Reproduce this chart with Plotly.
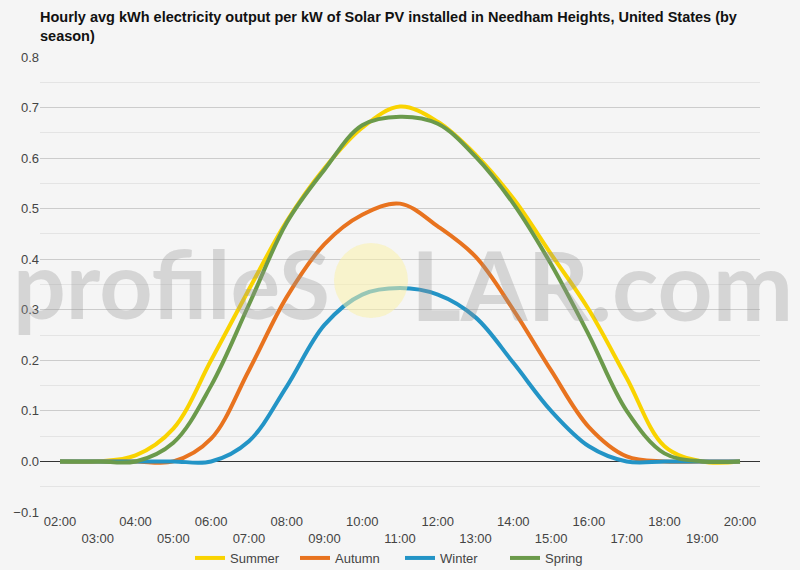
import plotly.graph_objects as go

# hourly averages, kWh per kW installed
hours = ['02:00', '03:00', '04:00', '05:00', '06:00', '07:00', '08:00', '09:00', '10:00', '11:00',
         '12:00', '13:00', '14:00', '15:00', '16:00', '17:00', '18:00', '19:00', '20:00']

summer = [0, 0, 0.012, 0.065, 0.2, 0.34, 0.475, 0.58, 0.66, 0.702,
          0.672, 0.607, 0.52, 0.41, 0.30, 0.165, 0.03, 0, 0]
autumn = [0, 0, 0, 0, 0.045, 0.18, 0.325, 0.43, 0.488, 0.51,
          0.465, 0.405, 0.30, 0.18, 0.068, 0.01, 0, 0, 0]
winter = [0, 0, 0, 0, 0, 0.04, 0.148, 0.27, 0.33, 0.343,
          0.33, 0.285, 0.195, 0.1, 0.03, 0, 0, 0, 0]
spring = [0, 0, 0, 0.037, 0.15, 0.31, 0.472, 0.577, 0.665, 0.682,
          0.668, 0.603, 0.51, 0.39, 0.25, 0.1, 0.016, 0, 0]

series = [('Summer', summer, '#f9d300'),
          ('Autumn', autumn, '#e8731f'),
          ('Winter', winter, '#2394c6'),
          ('Spring', spring, '#6b9a4b')]

# every other label goes on a second row
tick_text = [h if i % 2 == 0 else '<br>' + h for i, h in enumerate(hours)]

W, H = 800, 570
L, R, T, B = 40, 40, 57, 58


def px_x(x):
    return (x - L) / (W - L - R)


def px_y(y):
    return 1 - (y - T) / (H - T - B)


fig = go.Figure()

for name, vals, col in series:
    fig.add_trace(go.Scatter(x=hours, y=vals, name=name, mode='lines',
                             line=dict(color=col, width=4, shape='spline', smoothing=1)))

# watermark
wm_color = 'rgba(150,150,150,0.33)'
fig.add_shape(type='circle', xref='paper', yref='paper',
              x0=px_x(334), x1=px_x(408), y0=px_y(318), y1=px_y(243),
              fillcolor='rgba(250,240,170,0.55)', line=dict(width=0), layer='above')
fig.add_annotation(text='<b>profileS</b>', xref='paper', yref='paper',
                   x=px_x(332), y=px_y(283), xanchor='right', yanchor='middle',
                   showarrow=False, font=dict(family='Lato', size=93, color=wm_color))
fig.add_annotation(text='<b>LAR.com</b>', xref='paper', yref='paper',
                   x=px_x(409), y=px_y(283), xanchor='left', yanchor='middle',
                   showarrow=False, font=dict(family='Lato', size=96, color=wm_color))

fig.update_layout(
    width=W, height=H,
    paper_bgcolor='#f5f5f5', plot_bgcolor='#f5f5f5',
    margin=dict(l=L, r=R, t=T, b=B, autoexpand=False),
    font=dict(family='Arial', size=13, color='#444'),
    title=dict(text='<b>Hourly avg kWh electricity output per kW of Solar PV installed in Needham Heights, United States (by<br>season)</b>',
               x=40 / W, xanchor='left', y=1 - 22 / H, yanchor='top', yref='container',
               font=dict(family='Arial', size=14.5, color='#111')),
    legend=dict(orientation='h', x=0.5, xanchor='center', y=px_y(558), yanchor='middle',
                itemwidth=30, entrywidth=60, font=dict(size=13, color='#444'),
                bgcolor='rgba(0,0,0,0)'),
    showlegend=True,
)

fig.update_xaxes(type='category', range=[-0.53, len(hours) - 0.47],
                 tickmode='array', tickvals=hours, ticktext=tick_text,
                 showgrid=False, ticks='', showline=False, zeroline=False, automargin=False)
fig.update_yaxes(range=[-0.1, 0.8], dtick=0.1, tick0=0, tickformat='.1f',
                 gridcolor='#cccccc', gridwidth=1,
                 minor=dict(dtick=0.05, showgrid=True, gridcolor='#e4e4e4'),
                 zeroline=True, zerolinecolor='#333', zerolinewidth=1,
                 showline=False, ticks='', automargin=False)

fig.write_html('out.html', config=dict(displayModeBar=False),
               post_script="document.body.style.margin='0';document.body.style.background='#f5f5f5';")
